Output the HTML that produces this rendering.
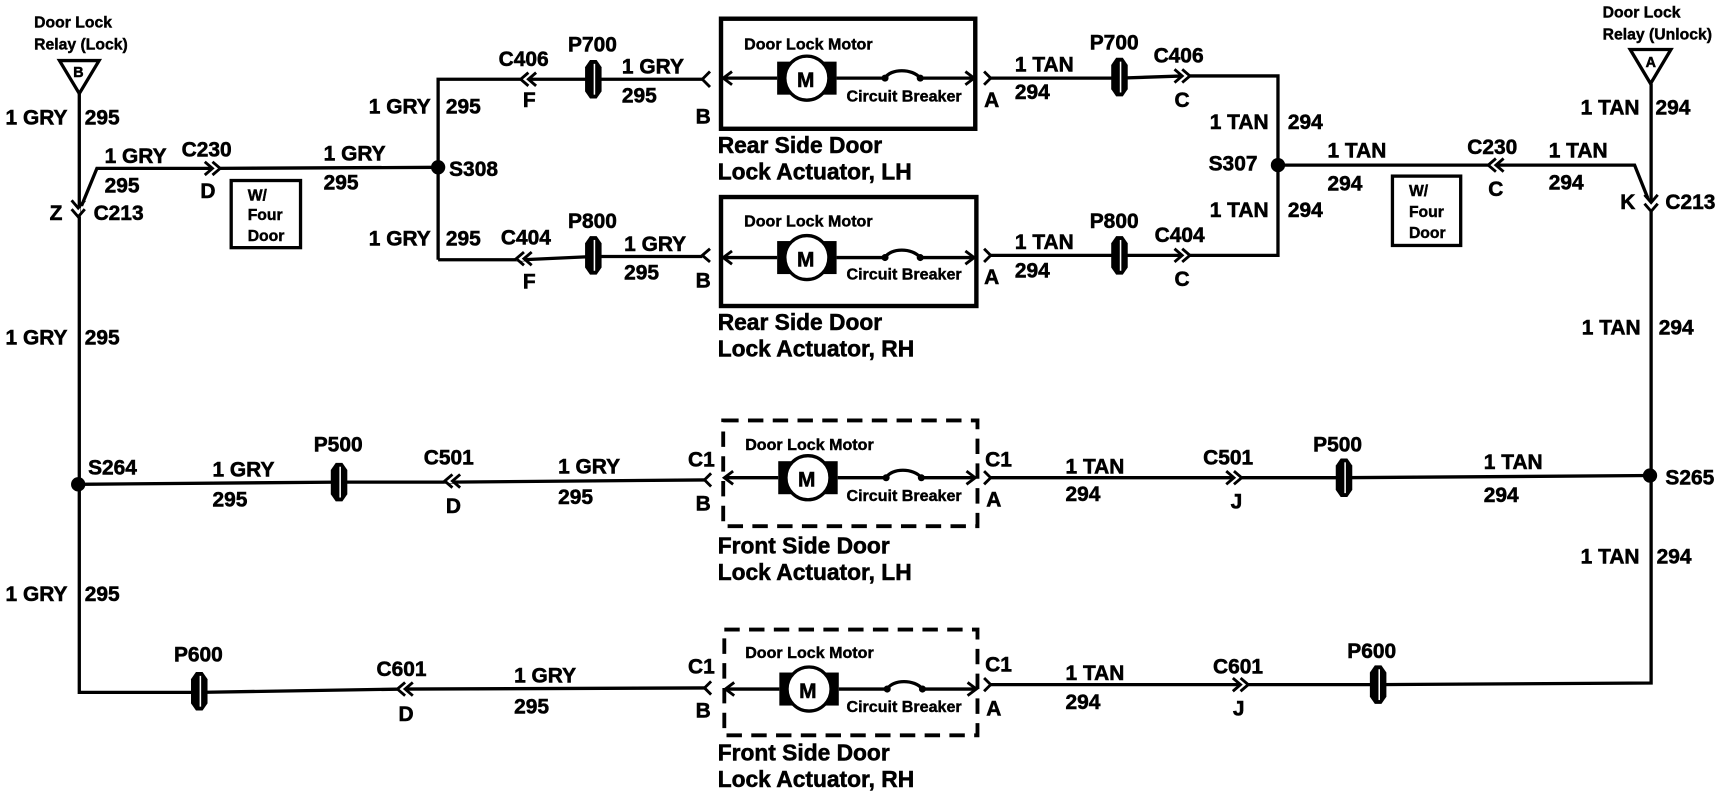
<!DOCTYPE html>
<html><head><meta charset="utf-8"><style>
html,body{margin:0;padding:0;background:#fff}
svg{display:block}
text{font-family:"Liberation Sans",sans-serif;font-weight:bold;font-size:19px;fill:#000;stroke:#000;stroke-width:.5}
.s{font-size:14.3px;stroke-width:.4}
.m{font-size:14.6px;stroke-width:.4}
.b{font-size:14.3px;stroke-width:.4}
.l{font-size:20.7px}
.w{fill:none;stroke:#000;stroke-width:3}
.c{fill:none;stroke:#000;stroke-width:2.6}
</style></head><body>
<svg width="1726" height="800" viewBox="0 0 1568 726.8" xmlns="http://www.w3.org/2000/svg">
<defs>
<g id="cr"><path d="M-1 0H6" stroke="#fff" stroke-width="4"/><path class="c" d="M-8 -6L-1 0L-8 6M-1 -6L6 0L-1 6"/></g>
<g id="cl"><path d="M-6 0H1" stroke="#fff" stroke-width="4"/><path class="c" d="M8 -6L1 0L8 6M1 -6L-6 0L1 6"/></g>
<g id="cd"><path d="M0 1V9" stroke="#fff" stroke-width="4"/><path class="c" d="M-6 -6L0 1L6 -6M-6 2L0 9L6 2"/></g>
<g id="p"><path d="M-7.5 -11L-3 -17.5H3L7.5 -11V11L3 17.5H-3L-7.5 11Z"/><path d="M1 -14V14" stroke="#fff" stroke-width="1.4"/></g>
<g id="mot">
<rect x="-27" y="-15" width="54" height="30" fill="#000"/>
<circle cx="0" cy="0" r="20" fill="#fff" stroke="#000" stroke-width="3"/>
<path d="M-76 0H-27M27 0H71C76 -9 96 -9 103 0H150" class="w"/>
<circle cx="71" cy="0" r="3.2"/><circle cx="103" cy="0" r="3.2"/>
<path d="M-68 -6L-76 0L-68 6M144 -6L152 0L144 6" class="c"/>
</g>
</defs>

<!-- left feed -->
<path class="w" d="M72 84V440V629H181L367 626L640 625"/>
<path fill="#fff" stroke="#000" stroke-width="3" d="M54 55H90L72 85Z"/>
<path class="w" d="M74 187L88 153H194L398 152"/>
<use href="#cd" x="71" y="188"/>
<use href="#cr" x="194" y="153"/>
<path class="w" d="M72 440L308 438H410L640 436"/>
<use href="#cl" x="410" y="437"/>
<use href="#p" x="308" y="438"/>
<use href="#p" x="181" y="628"/>
<use href="#cl" x="367" y="626"/>
<circle cx="71" cy="440" r="6.5"/>
<path class="c" d="M646 430L640 436L646 442"/>
<path class="c" d="M646 619L640 625L646 631"/>

<!-- S308 branches -->
<path class="w" d="M398 236V72H638"/>
<path class="w" d="M398 236H475L539 233H638"/>
<circle cx="398" cy="152" r="6.5"/>
<use href="#cl" x="479" y="72"/>
<use href="#cl" x="475" y="235"/>
<use href="#p" x="539" y="72"/>
<use href="#p" x="539" y="232"/>
<path class="c" d="M645 65L638 72L645 79M645 226L638 232L645 238"/>

<!-- right branches -->
<path class="w" d="M900 71H1017L1075 69H1161V232H900"/>
<use href="#p" x="1017" y="70"/>
<use href="#p" x="1017" y="232"/>
<use href="#cr" x="1075" y="69"/>
<use href="#cr" x="1075" y="232"/>
<path class="c" d="M894 65L900 71L894 77M894 226L900 232L894 238"/>
<circle cx="1161" cy="150" r="6.5"/>
<path class="w" d="M1161 150H1485L1497 180"/>
<use href="#cl" x="1358" y="150"/>

<!-- right feed -->
<path fill="#fff" stroke="#000" stroke-width="3" d="M1481 45H1518L1499.5 76Z"/>
<path class="w" d="M1500 76V620.5L1252 622H900"/>
<use href="#cd" x="1500" y="183"/>
<use href="#p" x="1252" y="622"/>
<use href="#cr" x="1128" y="622"/>
<path class="w" d="M1500 432L1221 434H900"/>
<use href="#p" x="1221" y="434"/>
<use href="#cr" x="1122" y="434"/>
<circle cx="1499" cy="432" r="6.5"/>
<path class="c" d="M894 428L900 434L894 440M894 616L900 622L894 628"/>

<!-- boxes -->
<rect x="655" y="17" width="231" height="100" fill="none" stroke="#000" stroke-width="4"/>
<rect x="655" y="179" width="232" height="99" fill="none" stroke="#000" stroke-width="4"/>
<rect x="657" y="382" width="231" height="96" fill="none" stroke="#000" stroke-width="3.5" stroke-dasharray="14 8.5"/>
<rect x="658" y="572" width="230" height="96" fill="none" stroke="#000" stroke-width="3.5" stroke-dasharray="14 8.5"/>
<use href="#mot" x="733" y="71"/>
<use href="#mot" x="733" y="234"/>
<use href="#mot" x="734" y="434"/>
<use href="#mot" x="735" y="626"/>
<rect x="210" y="164" width="63" height="61" fill="none" stroke="#000" stroke-width="3"/>
<rect x="1265" y="160" width="62" height="63" fill="none" stroke="#000" stroke-width="3"/>

<!-- text -->
<text class="s" x="31" y="25">Door Lock</text><text class="s" x="31" y="45">Relay (Lock)</text>
<text x="66.5" y="70" style="font-size:13px">B</text>
<text x="5" y="113">1 GRY</text><text x="77" y="113">295</text>
<text x="95" y="148">1 GRY</text><text x="165" y="142">C230</text><text x="95" y="175">295</text><text x="182" y="180">D</text>
<text x="45" y="200">Z</text><text x="85" y="200">C213</text>
<text class="b" x="225" y="182">W/</text><text class="b" x="225" y="200">Four</text><text class="b" x="225" y="219">Door</text>
<text x="294" y="146">1 GRY</text><text x="294" y="172">295</text>
<text x="335" y="103">1 GRY</text><text x="405" y="103">295</text><text x="408" y="160">S308</text>
<text x="335" y="223">1 GRY</text><text x="405" y="223">295</text>
<text x="453" y="60">C406</text><text x="475" y="97">F</text><text x="516" y="47">P700</text><text x="565" y="67">1 GRY</text><text x="565" y="93">295</text><text x="632" y="112">B</text>
<text x="455" y="222">C404</text><text x="475" y="262">F</text><text x="516" y="207">P800</text><text x="567" y="228">1 GRY</text><text x="567" y="254">295</text><text x="632" y="261">B</text>

<text class="m" x="676" y="45">Door Lock Motor</text><text class="m" x="769" y="92">Circuit Breaker</text>
<text x="724" y="79">M</text>
<text class="m" x="676" y="206">Door Lock Motor</text><text class="m" x="769" y="254">Circuit Breaker</text>
<text x="724" y="242">M</text>
<text class="m" x="677" y="409">Door Lock Motor</text><text class="m" x="769" y="455">Circuit Breaker</text>
<text x="725" y="442">M</text>
<text class="m" x="677" y="598">Door Lock Motor</text><text class="m" x="769" y="647">Circuit Breaker</text>
<text x="726" y="634">M</text>

<text class="l" x="652" y="139">Rear Side Door</text><text class="l" x="652" y="163">Lock Actuator, LH</text>
<text class="l" x="652" y="300">Rear Side Door</text><text class="l" x="652" y="324">Lock Actuator, RH</text>
<text class="l" x="652" y="503">Front Side Door</text><text class="l" x="652" y="527">Lock Actuator, LH</text>
<text class="l" x="652" y="691">Front Side Door</text><text class="l" x="652" y="715">Lock Actuator, RH</text>

<text x="894" y="97">A</text><text x="922" y="65">1 TAN</text><text x="922" y="90">294</text><text x="990" y="45">P700</text><text x="1048" y="57">C406</text><text x="1067" y="97">C</text>
<text x="1099" y="117">1 TAN</text><text x="1170" y="117">294</text><text x="1098" y="155">S307</text>
<text x="1099" y="197">1 TAN</text><text x="1170" y="197">294</text>
<text x="1206" y="143">1 TAN</text><text x="1206" y="173">294</text><text x="1333" y="140">C230</text><text x="1352" y="178">C</text>
<text x="1407" y="143">1 TAN</text><text x="1407" y="172">294</text><text x="1472" y="190">K</text><text x="1513" y="190">C213</text>
<text class="b" x="1280" y="178">W/</text><text class="b" x="1280" y="197">Four</text><text class="b" x="1280" y="216">Door</text>
<text x="1436" y="104">1 TAN</text><text x="1504" y="104">294</text>
<text class="s" x="1456" y="16">Door Lock</text><text class="s" x="1456" y="36">Relay (Unlock)</text>
<text x="1495" y="61" style="font-size:13px">A</text>
<text x="894" y="258">A</text><text x="922" y="226">1 TAN</text><text x="922" y="252">294</text><text x="990" y="207">P800</text><text x="1049" y="220">C404</text><text x="1067" y="260">C</text>
<text x="1437" y="304">1 TAN</text><text x="1507" y="304">294</text><text x="1513" y="440">S265</text>
<text x="1348" y="426">1 TAN</text><text x="1348" y="456">294</text><text x="1193" y="410">P500</text><text x="1093" y="422">C501</text><text x="1118" y="462">J</text>
<text x="968" y="430">1 TAN</text><text x="968" y="455">294</text><text x="895" y="424">C1</text><text x="896" y="460">A</text>
<text x="1436" y="512">1 TAN</text><text x="1505" y="512">294</text>
<text x="968" y="618">1 TAN</text><text x="968" y="644">294</text><text x="895" y="610">C1</text><text x="896" y="650">A</text>
<text x="1102" y="612">C601</text><text x="1120" y="650">J</text><text x="1224" y="598">P600</text>

<text x="5" y="313">1 GRY</text><text x="77" y="313">295</text><text x="80" y="431">S264</text>
<text x="193" y="433">1 GRY</text><text x="193" y="460">295</text><text x="285" y="410">P500</text><text x="385" y="422">C501</text><text x="405" y="466">D</text>
<text x="507" y="430">1 GRY</text><text x="507" y="458">295</text><text x="625" y="424">C1</text><text x="632" y="464">B</text>
<text x="5" y="546">1 GRY</text><text x="77" y="546">295</text><text x="158" y="601">P600</text><text x="342" y="614">C601</text><text x="362" y="655">D</text>
<text x="467" y="620">1 GRY</text><text x="467" y="648">295</text><text x="625" y="612">C1</text><text x="632" y="652">B</text>
</svg>
</body></html>
